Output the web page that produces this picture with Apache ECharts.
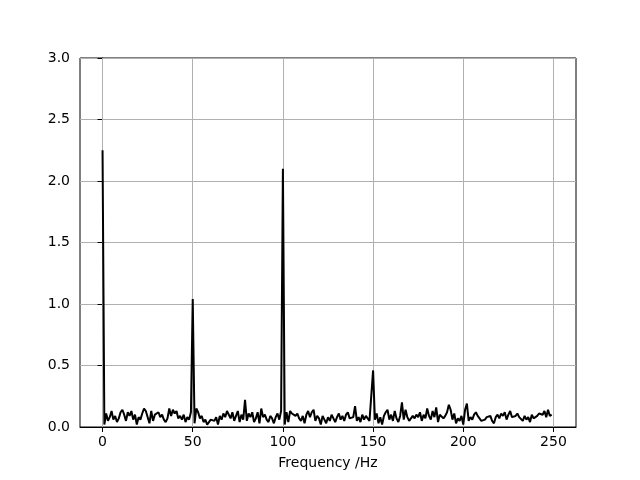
<!DOCTYPE html>
<html>
<head>
<meta charset="utf-8">
<script src="https://cdn.jsdelivr.net/npm/echarts@6/dist/echarts.min.js"></script>
<style>html,body{margin:0;padding:0;background:#fff}#c{width:640px;height:480px}</style>
</head>
<body>
<div id="c"></div>
<script>
const freqs = [];
for (let i = 0; i < 250; i++) freqs.push(i);
const amplitudes = [
  2.25, 0.02, 0.11, 0.05, 0.08, 0.13, 0.06, 0.09, 0.04, 0.07,
  0.12, 0.14, 0.10, 0.05, 0.12, 0.09, 0.13, 0.06, 0.10, 0.02,
  0.08, 0.06, 0.11, 0.15, 0.13, 0.14, 0.03, 0.13, 0.05, 0.10,
  0.09, 0.12, 0.08, 0.10, 0.06, 0.04, 0.07, 0.15, 0.09, 0.14,
  0.11, 0.13, 0.07, 0.09, 0.06, 0.10, 0.04, 0.08, 0.06, 0.12,
  1.04, 0.03, 0.15, 0.12, 0.07, 0.09, 0.04, 0.06, 0.02, 0.03,
  0.06, 0.07, 0.05, 0.08, 0.02, 0.09, 0.06, 0.11, 0.08, 0.13,
  0.10, 0.07, 0.12, 0.05, 0.09, 0.13, 0.04, 0.10, 0.06, 0.22,
  0.05, 0.11, 0.08, 0.12, 0.04, 0.07, 0.12, 0.03, 0.15, 0.08,
  0.10, 0.06, 0.04, 0.09, 0.07, 0.03, 0.08, 0.11, 0.06, 0.13,
  2.10, 0.02, 0.12, 0.04, 0.13, 0.11, 0.12, 0.09, 0.11, 0.07,
  0.05, 0.09, 0.03, 0.10, 0.13, 0.08, 0.12, 0.14, 0.05, 0.09,
  0.07, 0.02, 0.09, 0.06, 0.03, 0.08, 0.05, 0.10, 0.07, 0.04,
  0.08, 0.11, 0.06, 0.09, 0.05, 0.10, 0.12, 0.07, 0.06, 0.08,
  0.17, 0.05, 0.08, 0.04, 0.10, 0.06, 0.09, 0.07, 0.05, 0.04,
  0.46, 0.06, 0.11, 0.03, 0.08, 0.02, 0.09, 0.12, 0.14, 0.06,
  0.10, 0.05, 0.13, 0.07, 0.04, 0.09, 0.20, 0.06, 0.14, 0.08,
  0.05, 0.06, 0.09, 0.07, 0.10, 0.08, 0.12, 0.05, 0.10, 0.07,
  0.15, 0.09, 0.06, 0.13, 0.08, 0.16, 0.04, 0.10, 0.11, 0.07,
  0.09, 0.12, 0.18, 0.14, 0.06, 0.11, 0.03, 0.07, 0.05, 0.09,
  0.02, 0.14, 0.19, 0.05, 0.08, 0.06, 0.10, 0.12, 0.09, 0.07,
  0.05, 0.04, 0.06, 0.08, 0.07, 0.09, 0.05, 0.03, 0.08, 0.10,
  0.07, 0.11, 0.09, 0.12, 0.06, 0.10, 0.13, 0.08, 0.07, 0.09,
  0.11, 0.08, 0.07, 0.05, 0.09, 0.06, 0.08, 0.04, 0.10, 0.07,
  0.06, 0.09, 0.11, 0.12, 0.10, 0.13, 0.08, 0.14, 0.09, 0.10
];
const xTicks = [0, 50, 100, 150, 200, 250];
const xLabel = 'Frequency /Hz';

const font = 'DejaVu Sans';
const chart = echarts.init(document.getElementById('c'), null, {renderer: 'canvas'});
chart.setOption({
  animation: false,
  backgroundColor: '#fff',
  grid: {left: 80, right: 64, top: 58, bottom: 53, show: true, borderColor: '#000', borderWidth: 1, backgroundColor: 'transparent'},
  xAxis: {
    type: 'value', min: -12.5, max: 262.5,
    name: xLabel, nameLocation: 'middle', nameGap: 29,
    nameTextStyle: {fontFamily: font, fontSize: 14, color: '#000'},
    axisLine: {show: true, onZero: false, lineStyle: {color: '#000', width: 1}},
    axisTick: {show: true, inside: false, length: 5, customValues: xTicks, lineStyle: {color: '#000'}},
    axisLabel: {customValues: xTicks, fontFamily: font, fontSize: 14, color: '#000', margin: 8},
    splitLine: {show: false}
  },
  yAxis: {
    type: 'value', min: 0, max: 3, interval: 0.5,
    axisLine: {show: true, lineStyle: {color: '#000', width: 1}},
    axisTick: {show: true, inside: false, length: 5, lineStyle: {color: '#000'}},
    axisLabel: {fontFamily: font, fontSize: 14, color: '#000', margin: 10, formatter: v => v.toFixed(1)},
    splitLine: {show: true, lineStyle: {color: '#b0b0b0', width: 1}}
  },
  series: [{
    type: 'line',
    data: freqs.map((f, i) => [f, amplitudes[i]]),
    showSymbol: false,
    lineStyle: {color: '#000', width: 2},
    z: 3,
    markLine: {
      silent: true, symbol: 'none', label: {show: false},
      lineStyle: {color: '#b0b0b0', width: 1, type: 'solid'},
      z: 1,
      data: xTicks.map(t => ({xAxis: t}))
    }
  }]
});
</script>
</body>
</html>
